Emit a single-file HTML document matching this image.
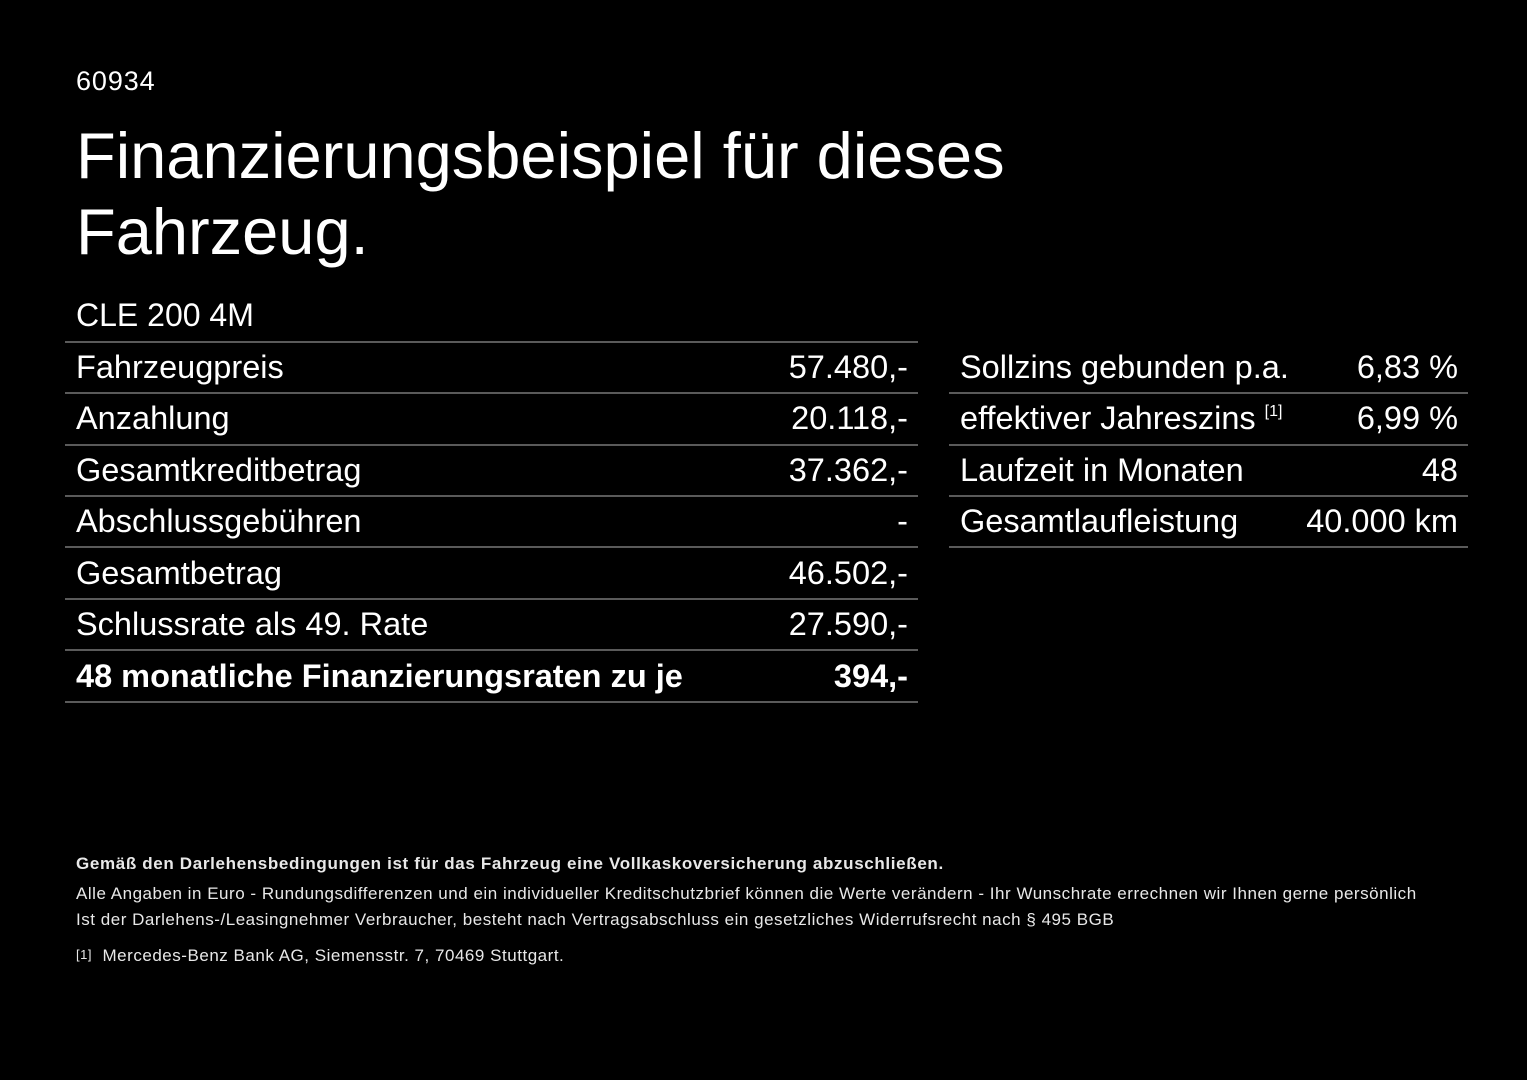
<!DOCTYPE html>
<html><head><meta charset="utf-8"><style>
html,body{margin:0;padding:0;background:#000;}
body{width:1527px;height:1080px;position:relative;overflow:hidden;color:#fff;font-family:"Liberation Sans",Arial,sans-serif;}
.a{position:absolute;white-space:nowrap;}
.line{position:absolute;height:2px;background:#5a5a5a;}
.row{position:absolute;height:51px;line-height:51px;font-size:32.5px;}
.row .l{position:absolute;left:11px;}
.row .r{position:absolute;right:10px;}
.f{font-size:17px;color:#e8e8e8;letter-spacing:0.52px;}
sup{font-size:16px;line-height:0;vertical-align:0;position:relative;top:-13px;}
</style></head><body>
<div class="a" style="left:76px;top:66px;font-size:27px;letter-spacing:0.9px;">60934</div>
<div class="a" style="left:76px;top:118px;font-size:65px;line-height:76px;">Finanzierungsbeispiel für dieses<br>Fahrzeug.</div>
<div class="a" style="left:76px;top:297px;font-size:32px;">CLE 200 4M</div>

<div class="line" style="left:65px;width:853px;top:341px"></div>
<div class="row" style="left:65px;width:853px;top:342px"><span class="l">Fahrzeugpreis</span><span class="r">57.480,-</span></div>
<div class="line" style="left:65px;width:853px;top:392px"></div>
<div class="row" style="left:65px;width:853px;top:393px"><span class="l">Anzahlung</span><span class="r">20.118,-</span></div>
<div class="line" style="left:65px;width:853px;top:444px"></div>
<div class="row" style="left:65px;width:853px;top:445px"><span class="l">Gesamtkreditbetrag</span><span class="r">37.362,-</span></div>
<div class="line" style="left:65px;width:853px;top:495px"></div>
<div class="row" style="left:65px;width:853px;top:496px"><span class="l">Abschlussgebühren</span><span class="r">-</span></div>
<div class="line" style="left:65px;width:853px;top:546px"></div>
<div class="row" style="left:65px;width:853px;top:548px"><span class="l">Gesamtbetrag</span><span class="r">46.502,-</span></div>
<div class="line" style="left:65px;width:853px;top:598px"></div>
<div class="row" style="left:65px;width:853px;top:599px"><span class="l">Schlussrate als 49. Rate</span><span class="r">27.590,-</span></div>
<div class="line" style="left:65px;width:853px;top:649px"></div>
<div class="row" style="left:65px;width:853px;top:651px;font-weight:bold;"><span class="l">48 monatliche Finanzierungsraten zu je</span><span class="r">394,-</span></div>
<div class="line" style="left:65px;width:853px;top:701px"></div>

<div class="row" style="left:949px;width:519px;top:342px"><span class="l">Sollzins gebunden p.a.</span><span class="r">6,83 %</span></div>
<div class="line" style="left:949px;width:519px;top:392px"></div>
<div class="row" style="left:949px;width:519px;top:393px"><span class="l">effektiver Jahreszins <sup>[1]</sup></span><span class="r">6,99 %</span></div>
<div class="line" style="left:949px;width:519px;top:444px"></div>
<div class="row" style="left:949px;width:519px;top:445px"><span class="l">Laufzeit in Monaten</span><span class="r">48</span></div>
<div class="line" style="left:949px;width:519px;top:495px"></div>
<div class="row" style="left:949px;width:519px;top:496px"><span class="l">Gesamtlaufleistung</span><span class="r">40.000 km</span></div>
<div class="line" style="left:949px;width:519px;top:546px"></div>

<div class="a f" style="left:76px;top:854px;font-weight:bold;letter-spacing:0.65px;">Gemäß den Darlehensbedingungen ist für das Fahrzeug eine Vollkaskoversicherung abzuschließen.</div>
<div class="a f" style="left:76px;top:884px;">Alle Angaben in Euro - Rundungsdifferenzen und ein individueller Kreditschutzbrief können die Werte verändern - Ihr Wunschrate errechnen wir Ihnen gerne persönlich</div>
<div class="a f" style="left:76px;top:910px;">Ist der Darlehens-/Leasingnehmer Verbraucher, besteht nach Vertragsabschluss ein gesetzliches Widerrufsrecht nach § 495 BGB</div>
<div class="a f" style="left:76px;top:946px;"><span style="font-size:13px;position:relative;top:-2px;">[1]</span>&nbsp; Mercedes-Benz Bank AG, Siemensstr. 7, 70469 Stuttgart.</div>
</body></html>
